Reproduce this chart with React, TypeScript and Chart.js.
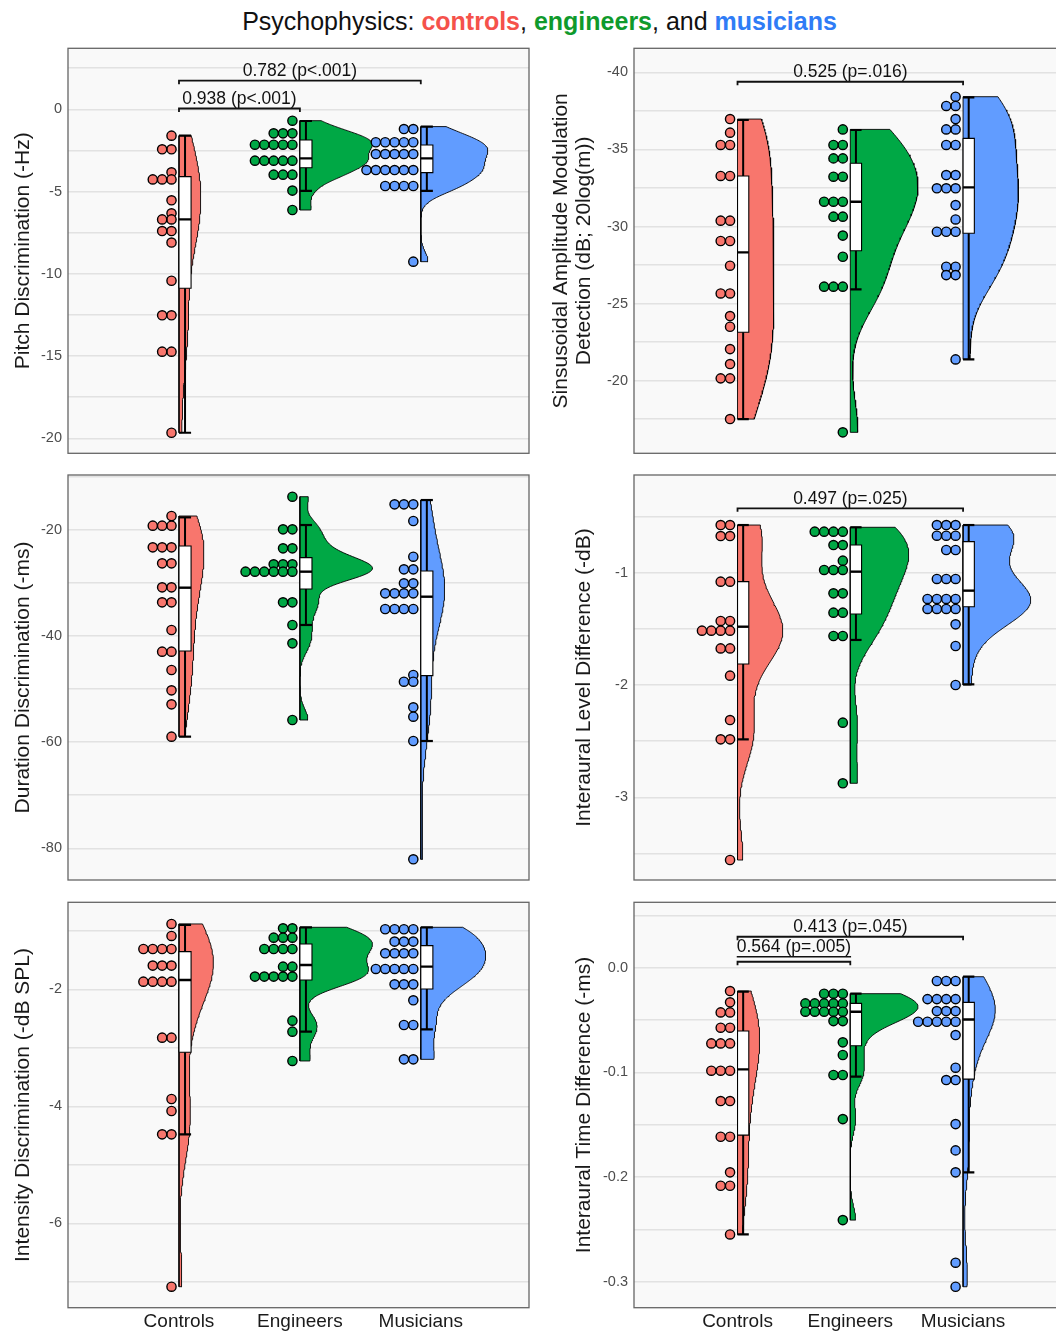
import React, { useEffect, useRef } from 'react';
import { Chart, registerables } from 'chart.js';

Chart.register(...registerables);

const FONT = '"Liberation Sans", Arial, Helvetica, sans-serif';
const GROUPS = ['Controls', 'Engineers', 'Musicians'];
const GROUP_X = [1, 2, 3];
const FILLS = ['#F8766D', '#00A845', '#619CFF'];

// ---------- Pitch Discrimination (-Hz)
const pitchControls = [-1.6, -2.43, -2.43, -3.83, -4.26, -4.26, -4.26, -5.53, -6.32, -6.69, -6.69, -7.4, -7.4, -8.1, -10.42, -12.52, -12.52, -14.73, -14.73, -19.66];
const pitchEngineers = [-0.69, -1.46, -1.46, -1.46, -2.15, -2.15, -2.15, -2.15, -2.15, -3.12, -3.12, -3.12, -3.12, -3.12, -3.97, -3.97, -3.97, -4.94, -6.12];
const pitchMusicians = [-1.2, -1.2, -2.0, -2.0, -2.0, -2.0, -2.0, -2.72, -2.72, -2.72, -2.72, -2.72, -3.69, -3.69, -3.69, -3.69, -3.69, -3.69, -4.66, -4.66, -4.66, -4.66, -9.26];
const pitchBoxes = [[-19.66, -10.88, -6.69, -4.09, -1.6], [-4.96, -3.55, -2.98, -1.86, -0.71], [-4.96, -3.85, -2.98, -2.17, -1.05]];
const pitchGrid = [2.5, 0, -2.5, -5, -7.5, -10, -12.5, -15, -17.5, -20];
const pitchTicks = [0, -5, -10, -15, -20];
const pitchBrackets = [
  { from: 1, to: 3, y: 1.74, label: '0.782 (p<.001)' },
  { from: 1, to: 2, y: 0.05, label: '0.938 (p<.001)' },
];

// ---------- Sinusoidal Amplitude Modulation Detection
const samControls = [-36.97, -36.09, -35.29, -35.29, -33.28, -33.28, -30.38, -30.38, -29.06, -29.06, -27.46, -25.66, -25.66, -24.19, -23.5, -22.05, -21.08, -20.15, -20.15, -17.51];
const samEngineers = [-36.3, -35.29, -35.29, -34.42, -34.42, -33.23, -33.23, -31.61, -31.61, -31.61, -30.64, -30.64, -29.41, -28.04, -26.1, -26.1, -26.1, -16.65];
const samMusicians = [-38.42, -37.82, -37.82, -36.97, -36.3, -36.3, -35.29, -35.29, -33.34, -33.34, -32.48, -32.48, -32.48, -31.39, -30.46, -29.66, -29.66, -29.66, -27.39, -27.39, -26.85, -26.85, -21.38];
const samBoxes = [[-36.91, -33.28, -28.32, -23.14, -17.51], [-36.26, -34.1, -31.61, -28.43, -25.92], [-38.38, -35.72, -32.54, -29.56, -21.38]];
const samGrid = [-40, -37.5, -35, -32.5, -30, -27.5, -25, -22.5, -20, -17.5];
const samTicks = [-40, -35, -30, -25, -20];
const samBrackets = [{ from: 1, to: 3, y: -39.39, label: '0.525 (p=.016)' }];

// ---------- Duration Discrimination (-ms)
const durControls = [-17.36, -19.18, -19.18, -19.18, -23.27, -23.27, -23.27, -26.28, -26.28, -30.81, -30.81, -33.63, -33.63, -38.85, -42.93, -42.93, -46.39, -50.22, -52.86, -58.95];
const durEngineers = [-13.72, -19.87, -19.87, -23.46, -23.46, -26.47, -26.47, -26.47, -27.85, -27.85, -27.85, -27.85, -27.85, -27.85, -33.63, -33.63, -37.9, -41.36, -55.81];
const durMusicians = [-15.16, -15.16, -15.16, -18.3, -25.03, -27.41, -27.41, -30.05, -30.05, -31.94, -31.94, -31.94, -31.94, -34.89, -34.89, -34.89, -34.89, -47.33, -48.59, -48.59, -53.42, -55.18, -59.77, -82.07];
const durBoxes = [[-58.95, -42.8, -30.87, -23.02, -17.61], [-37.9, -31.12, -27.85, -25.21, -19.06], [-59.77, -47.45, -32.57, -27.73, -14.35]];
const durGrid = [-10, -20, -30, -40, -50, -60, -70, -80];
const durTicks = [-20, -40, -60, -80];

// ---------- Interaural Level Difference (-dB)
const ildControls = [-0.576, -0.576, -0.674, -0.674, -1.08, -1.08, -1.43, -1.43, -1.516, -1.516, -1.516, -1.516, -1.674, -1.674, -1.917, -2.312, -2.484, -2.484, -3.558];
const ildEngineers = [-0.635, -0.635, -0.635, -0.635, -0.754, -0.754, -0.893, -0.976, -0.976, -0.976, -1.184, -1.184, -1.356, -1.356, -1.564, -1.564, -2.335, -2.875];
const ildMusicians = [-0.576, -0.576, -0.576, -0.671, -0.671, -0.671, -0.798, -0.798, -1.056, -1.056, -1.056, -1.234, -1.234, -1.234, -1.234, -1.323, -1.323, -1.323, -1.323, -1.46, -1.653, -2.0];
const ildBoxes = [[-2.484, -1.813, -1.481, -1.08, -0.576], [-1.599, -1.368, -0.991, -0.754, -0.596], [-1.994, -1.303, -1.16, -0.724, -0.576]];
const ildGrid = [-0.5, -1, -1.5, -2, -2.5, -3, -3.5];
const ildTicks = [-1, -2, -3];
const ildBrackets = [{ from: 1, to: 3, y: -0.427, label: '0.497 (p=.025)' }];

// ---------- Intensity Discrimination (-dB SPL)
const intControls = [-0.883, -1.088, -1.311, -1.311, -1.311, -1.311, -1.595, -1.595, -1.595, -1.869, -1.869, -1.869, -1.869, -2.826, -2.826, -3.875, -4.08, -4.479, -4.479, -7.083];
const intEngineers = [-0.957, -0.957, -1.117, -1.117, -1.117, -1.311, -1.311, -1.311, -1.311, -1.613, -1.613, -1.783, -1.783, -1.783, -1.783, -1.783, -2.536, -2.724, -3.225];
const intMusicians = [-0.974, -0.974, -0.974, -0.974, -1.185, -1.185, -1.185, -1.385, -1.385, -1.385, -1.385, -1.652, -1.652, -1.652, -1.652, -1.652, -1.915, -1.915, -1.915, -2.188, -2.61, -2.61, -3.197, -3.197];
const intBoxes = [[-4.479, -3.077, -1.84, -1.356, -0.9], [-2.724, -1.84, -1.584, -1.225, -0.94], [-2.684, -1.994, -1.613, -1.254, -0.94]];
const intGrid = [-1, -2, -3, -4, -5, -6, -7];
const intTicks = [-2, -4, -6];

// ---------- Interaural Time Difference (-ms)
const itdControls = [-0.0223, -0.0331, -0.0427, -0.0427, -0.0573, -0.0573, -0.0723, -0.0723, -0.0723, -0.0984, -0.0984, -0.0984, -0.1274, -0.1274, -0.1615, -0.1615, -0.1955, -0.2083, -0.2083, -0.2548];
const itdEngineers = [-0.0248, -0.0248, -0.0248, -0.0341, -0.0341, -0.0341, -0.0341, -0.0341, -0.042, -0.042, -0.042, -0.042, -0.042, -0.051, -0.051, -0.0713, -0.0834, -0.1025, -0.1025, -0.1446, -0.2411];
const itdMusicians = [-0.0127, -0.0127, -0.0127, -0.03, -0.03, -0.03, -0.03, -0.0414, -0.0414, -0.0414, -0.0516, -0.0516, -0.0516, -0.0516, -0.0516, -0.0643, -0.0955, -0.1073, -0.1073, -0.1494, -0.1745, -0.1955, -0.2818, -0.3048];
const itdBoxes = [[-0.2548, -0.1599, -0.0971, -0.0605, -0.0229], [-0.1041, -0.0745, -0.042, -0.0341, -0.0248], [-0.1955, -0.1064, -0.0494, -0.0331, -0.0086]];
const itdGrid = [0.05, 0, -0.05, -0.1, -0.15, -0.2, -0.25, -0.3];
const itdTicks = [0, -0.1, -0.2, -0.3];
const itdBrackets = [
  { from: 1, to: 3, y: 0.0296, label: '0.413 (p=.045)' },
  { from: 1, to: 2, y: 0.0057, label: '0.564 (p=.005)', underline: true },
];

// ---------- layout / style
const PAGE_W = 1056;
const PAGE_H = 1335;
const PAD = 20;
const X_MIN = 0.082;
const X_MAX = 3.895;
const COLS = [
  { canvasLeft: 0, plotLeft: 68, plotRight: 530.3, titlePad: 11.5, titlePadMulti: 0 },
  { canvasLeft: 532, plotLeft: 634, plotRight: 1065.6, titlePad: 40.5, titlePadMulti: 17.1 },
];
const ROWS = [
  { top: 48.3, bottom: 453.3 },
  { top: 475, bottom: 880 },
  { top: 902.3, bottom: 1307.7 },
];
const VIOLIN_W = 0.6;
const BOX_W = 0.1;
const DOT_OFFSET_PX = 7.5;
const DOT_STEP_PX = 9.4;
const PANEL_BG = '#f9f9f9';
const GRID_COLOR = '#e2e2e2';
const BORDER_COLOR = '#666666';

type Bracket = { from: number; to: number; y: number; label: string; underline?: boolean };
type PanelSpec = {
  title: string | string[];
  dots: number[][];
  boxes: number[][];
  yMin: number;
  yMax: number;
  reverse: boolean;
  grid: number[];
  ticks: number[];
  decimals: number;
  brackets: Bracket[];
  col: number;
  row: number;
};

const PANELS: PanelSpec[] = [
  { title: 'Pitch Discrimination (-Hz)', dots: [pitchControls, pitchEngineers, pitchMusicians], boxes: pitchBoxes, yMin: -20.91, yMax: 3.71, reverse: false, grid: pitchGrid, ticks: pitchTicks, decimals: 0, brackets: pitchBrackets, col: 0, row: 0 },
  { title: ['Sinsusoidal Amplitude Modulation', 'Detection (dB; 20log(m))'], dots: [samControls, samEngineers, samMusicians], boxes: samBoxes, yMin: -41.56, yMax: -15.29, reverse: true, grid: samGrid, ticks: samTicks, decimals: 0, brackets: samBrackets, col: 1, row: 0 },
  { title: 'Duration Discrimination (-ms)', dots: [durControls, durEngineers, durMusicians], boxes: durBoxes, yMin: -85.97, yMax: -9.63, reverse: false, grid: durGrid, ticks: durTicks, decimals: 0, brackets: [], col: 0, row: 1 },
  { title: 'Interaural Level Difference (-dB)', dots: [ildControls, ildEngineers, ildMusicians], boxes: ildBoxes, yMin: -3.736, yMax: -0.1305, reverse: false, grid: ildGrid, ticks: ildTicks, decimals: 0, brackets: ildBrackets, col: 1, row: 1 },
  { title: 'Intensity Discrimination (-dB SPL)', dots: [intControls, intEngineers, intMusicians], boxes: intBoxes, yMin: -7.442, yMax: -0.513, reverse: false, grid: intGrid, ticks: intTicks, decimals: 0, brackets: [], col: 0, row: 2 },
  { title: 'Interaural Time Difference (-ms)', dots: [itdControls, itdEngineers, itdMusicians], boxes: itdBoxes, yMin: -0.3248, yMax: 0.0625, reverse: false, grid: itdGrid, ticks: itdTicks, decimals: 1, brackets: itdBrackets, col: 1, row: 2 },
];

function kde(values: number[], lo: number, hi: number, m: number) {
  const s = [...values].sort((a, b) => a - b);
  const n = s.length;
  const mean = s.reduce((a, b) => a + b, 0) / n;
  const sd = Math.sqrt(s.reduce((a, b) => a + (b - mean) * (b - mean), 0) / (n - 1));
  const q = (p: number) => {
    const h = (n - 1) * p;
    const i = Math.floor(h);
    return s[i] + (h - i) * (s[Math.min(i + 1, n - 1)] - s[i]);
  };
  let spread = Math.min(sd, (q(0.75) - q(0.25)) / 1.34);
  if (!(spread > 0)) spread = sd || Math.abs(s[0]) || 1;
  const bw = 0.9 * spread * Math.pow(n, -0.2);
  const ys: number[] = [];
  const ds: number[] = [];
  for (let i = 0; i < m; i++) {
    const y = lo + ((hi - lo) * i) / (m - 1);
    let d = 0;
    for (const v of s) {
      const z = (y - v) / bw;
      d += Math.exp(-0.5 * z * z);
    }
    ys.push(y);
    ds.push(d / (n * bw * Math.sqrt(2 * Math.PI)));
  }
  return { ys, ds, lo, hi };
}

function buildDatasets(panel: PanelSpec, ppu: number) {
  const datasets: any[] = [];
  const lineBase = { type: 'line', pointRadius: 0, pointHitRadius: 0, tension: 0, borderColor: '#000000', borderJoinStyle: 'miter' };

  // violins
  const dens = panel.dots.map((vals, gi) => {
    const lo = Math.min(...vals, panel.boxes[gi][0]);
    const hi = Math.max(...vals, panel.boxes[gi][4]);
    return kde(vals, lo, hi, 180);
  });
  const maxD = Math.max(...dens.map((d) => Math.max(...d.ds)));
  dens.forEach((d, gi) => {
    const g = GROUP_X[gi];
    const pts = [{ x: g, y: d.lo }];
    d.ys.forEach((y, i) => pts.push({ x: g + (d.ds[i] / maxD) * VIOLIN_W, y }));
    pts.push({ x: g, y: d.hi });
    pts.push({ x: g, y: d.lo });
    datasets.push({ ...lineBase, data: pts, backgroundColor: FILLS[gi], borderWidth: 0.9, fill: 'shape', order: 5 });
  });

  // boxes + whiskers
  panel.boxes.forEach((b, gi) => {
    const [lo, q1, med, q3, hi] = b;
    const x0 = GROUP_X[gi];
    const x1 = x0 + BOX_W;
    const xm = x0 + BOX_W / 2;
    datasets.push({ ...lineBase, data: [{ x: xm, y: lo }, { x: xm, y: hi }], borderWidth: 2, fill: false, order: 4 });
    datasets.push({ ...lineBase, data: [{ x: x0, y: lo }, { x: x1, y: lo }], borderWidth: 2.2, fill: false, order: 4 });
    datasets.push({ ...lineBase, data: [{ x: x0, y: hi }, { x: x1, y: hi }], borderWidth: 2.2, fill: false, order: 4 });
    datasets.push({
      ...lineBase,
      data: [{ x: x0, y: q1 }, { x: x1, y: q1 }, { x: x1, y: q3 }, { x: x0, y: q3 }, { x: x0, y: q1 }],
      backgroundColor: '#ffffff',
      borderWidth: 1.1,
      fill: 'shape',
      order: 3,
    });
    datasets.push({ ...lineBase, data: [{ x: x0, y: med }, { x: x1, y: med }], borderWidth: 2.4, fill: false, order: 2 });
  });

  // dot plots, stacked leftwards from each group
  panel.dots.forEach((vals, gi) => {
    const g = GROUP_X[gi];
    const counts = new Map<number, number>();
    const pts = vals.map((v) => {
      const k = counts.get(v) || 0;
      counts.set(v, k + 1);
      return { x: g - (DOT_OFFSET_PX + k * DOT_STEP_PX) / ppu, y: v };
    });
    datasets.push({
      type: 'scatter',
      data: pts,
      pointRadius: 4.6,
      pointBackgroundColor: FILLS[gi],
      pointBorderColor: '#000000',
      pointBorderWidth: 1.4,
      order: 1,
    });
  });
  return datasets;
}

function PanelChart({ panel }: { panel: PanelSpec }) {
  const ref = useRef<HTMLCanvasElement | null>(null);
  const col = COLS[panel.col];
  const row = ROWS[panel.row];
  const isBottom = panel.row === 2;
  const canvasTop = Math.floor(row.top - PAD);
  const height = isBottom ? PAGE_H - canvasTop : Math.ceil(row.bottom + PAD) - canvasTop;
  const width = Math.ceil(col.plotRight + 4) - col.canvasLeft;
  const padTop = row.top - canvasTop;
  const bottomExtra = height - (row.bottom - canvasTop);
  const padRight = width - (col.plotRight - col.canvasLeft);
  const yAxisW = col.plotLeft - col.canvasLeft;
  const titlePad = Array.isArray(panel.title) ? col.titlePadMulti : col.titlePad;

  useEffect(() => {
    if (!ref.current) return;
    const ppu = (col.plotRight - col.plotLeft) / (X_MAX - X_MIN);
    const bgPlugin = {
      id: 'panelBg',
      beforeDraw(chart: any) {
        const { ctx, chartArea: a } = chart;
        ctx.save();
        ctx.fillStyle = PANEL_BG;
        ctx.fillRect(a.left, a.top, a.right - a.left, a.bottom - a.top);
        ctx.restore();
      },
      afterDraw(chart: any) {
        const { ctx, chartArea: a } = chart;
        ctx.save();
        ctx.strokeStyle = BORDER_COLOR;
        ctx.lineWidth = 1.3;
        ctx.strokeRect(a.left, a.top, a.right - a.left, a.bottom - a.top);
        ctx.restore();
      },
    };
    const bracketPlugin = {
      id: 'brackets',
      afterDatasetsDraw(chart: any) {
        const { ctx } = chart;
        const xs = chart.scales.x;
        const ys = chart.scales.y;
        for (const b of panel.brackets) {
          const x0 = xs.getPixelForValue(b.from);
          const x1 = xs.getPixelForValue(b.to);
          const yy = ys.getPixelForValue(b.y);
          ctx.save();
          ctx.strokeStyle = '#111111';
          ctx.lineWidth = 1.8;
          ctx.beginPath();
          ctx.moveTo(x0, yy + 3.5);
          ctx.lineTo(x0, yy);
          ctx.lineTo(x1, yy);
          ctx.lineTo(x1, yy + 3.5);
          ctx.stroke();
          ctx.font = `17.5px ${FONT}`;
          ctx.fillStyle = '#111111';
          ctx.textAlign = 'center';
          ctx.textBaseline = 'alphabetic';
          const cx = (x0 + x1) / 2;
          const ty = yy - (b.underline ? 10 : 4.5);
          ctx.fillText(b.label, cx, ty);
          if (b.underline) {
            const w = ctx.measureText(b.label).width;
            ctx.lineWidth = 1.3;
            ctx.beginPath();
            ctx.moveTo(cx - w / 2, ty + 5);
            ctx.lineTo(cx + w / 2, ty + 5);
            ctx.stroke();
          }
          ctx.restore();
        }
      },
    };

    const chart = new Chart(ref.current, {
      type: 'scatter',
      data: { datasets: buildDatasets(panel, ppu) },
      plugins: [bgPlugin, bracketPlugin],
      options: {
        responsive: false,
        maintainAspectRatio: false,
        animation: false,
        events: [],
        layout: { padding: { left: 0, top: padTop, right: padRight, bottom: isBottom ? 0 : bottomExtra } },
        plugins: { legend: { display: false }, tooltip: { enabled: false }, title: { display: false } },
        scales: {
          x: {
            type: 'linear',
            min: X_MIN,
            max: X_MAX,
            display: isBottom,
            grid: { display: false, drawTicks: false },
            border: { display: false },
            afterBuildTicks: (s: any) => {
              s.ticks = GROUP_X.map((v) => ({ value: v }));
            },
            ticks: {
              autoSkip: false,
              maxRotation: 0,
              padding: 3,
              color: '#1a1a1a',
              font: { family: FONT, size: 19 },
              callback: (v: any) => {
                const i = GROUP_X.indexOf(Number(v));
                return i >= 0 ? GROUPS[i] : '';
              },
            },
            afterFit: (s: any) => {
              s.height = isBottom ? bottomExtra : 0;
            },
          },
          y: {
            type: 'linear',
            min: panel.yMin,
            max: panel.yMax,
            reverse: panel.reverse,
            grid: { color: GRID_COLOR, lineWidth: 1.6, drawTicks: false },
            border: { display: false },
            afterBuildTicks: (s: any) => {
              s.ticks = panel.grid.map((v) => ({ value: v }));
            },
            ticks: {
              autoSkip: false,
              padding: 6,
              color: '#4d4d4d',
              font: { family: FONT, size: 14.5 },
              callback: (v: any) => {
                const n = Number(v);
                return panel.ticks.some((t) => Math.abs(t - n) < 1e-9) ? n.toFixed(panel.decimals) : '';
              },
            },
            title: {
              display: true,
              text: panel.title,
              color: '#1a1a1a',
              font: { family: FONT, size: 21, lineHeight: 1.12 },
              padding: { top: titlePad, bottom: 0 },
            },
            afterFit: (s: any) => {
              s.width = yAxisW;
            },
          },
        },
      } as any,
    } as any);
    return () => chart.destroy();
  }, []);

  return (
    <canvas
      ref={ref}
      width={width}
      height={height}
      style={{ position: 'absolute', left: col.canvasLeft, top: canvasTop, width, height }}
    />
  );
}

export default function App() {
  return (
    <div style={{ position: 'absolute', left: 0, top: 0, width: PAGE_W, height: PAGE_H, overflow: 'hidden', background: '#ffffff' }}>
      <div
        style={{
          position: 'absolute',
          left: 0,
          top: 7,
          width: 1079,
          textAlign: 'center',
          fontFamily: FONT,
          fontSize: 25,
          lineHeight: '29px',
          color: '#111111',
          whiteSpace: 'nowrap',
        }}
      >
        Psychophysics: <b style={{ color: '#F5524B' }}>controls</b>, <b style={{ color: '#0F9A2C' }}>engineers</b>, and{' '}
        <b style={{ color: '#2F7CF6' }}>musicians</b>
      </div>
      {PANELS.map((p, i) => (
        <PanelChart key={i} panel={p} />
      ))}
    </div>
  );
}
